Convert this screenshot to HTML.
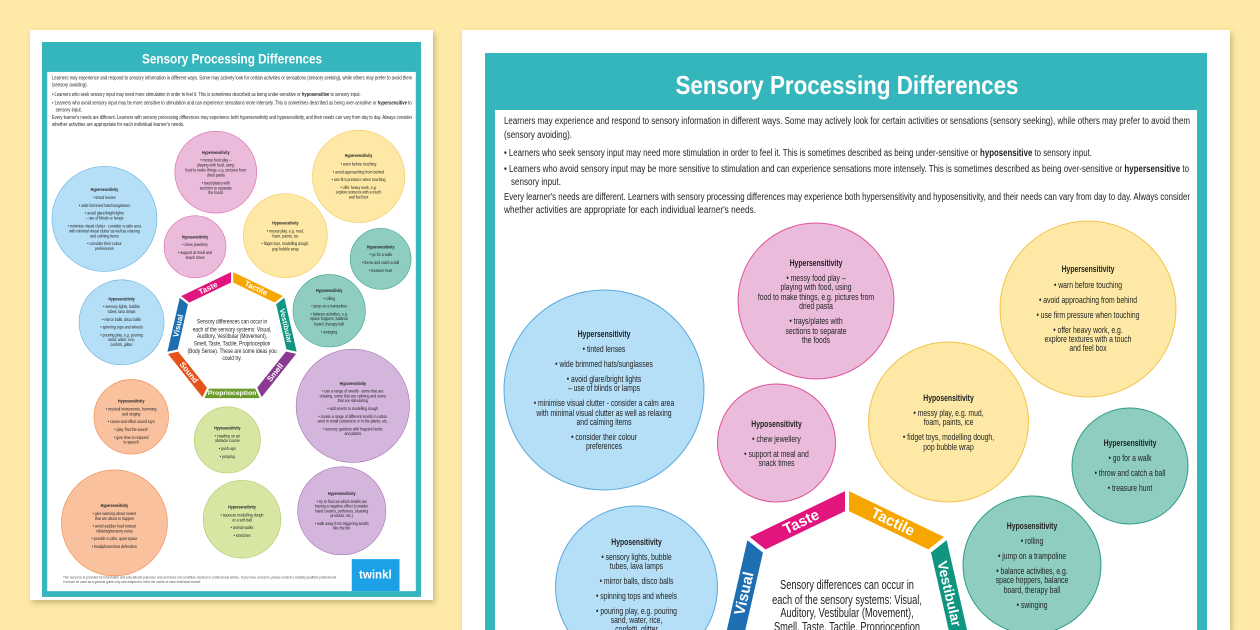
<!DOCTYPE html>
<html><head><meta charset="utf-8"><style>
html,body{margin:0;padding:0;background:#fee9a6;width:1260px;height:630px;overflow:hidden;}
svg{display:block}
.t{font-family:"Liberation Sans",sans-serif;font-size:9.5px;fill:#222;text-anchor:middle}
.h{font-weight:bold}
.i{font-family:"Liberation Sans",sans-serif;font-size:10px;fill:#222}
.seg{font-family:"Liberation Sans",sans-serif;font-weight:bold;font-size:15px;fill:#fff;text-anchor:middle;dominant-baseline:central}
.c{font-family:"Liberation Sans",sans-serif;font-size:12.5px;fill:#222;text-anchor:middle}
</style></head><body style="min-height:0">
<svg width="1260" height="630" viewBox="0 0 1260 630" xmlns="http://www.w3.org/2000/svg" overflow="hidden">
<defs>
<clipPath id="frame"><rect x="0" y="0" width="1260" height="630"/></clipPath>
<filter id="sh" x="-5%" y="-5%" width="110%" height="110%"><feDropShadow dx="2" dy="3" stdDeviation="3" flood-color="#8a7a40" flood-opacity="0.45"/></filter>
<g id="poster">
<rect x="0" y="0" width="722" height="1057" fill="#35b6bc"/>
<rect x="10" y="57" width="702" height="989" fill="#fff"/>
<text x="362" y="41" textLength="343" lengthAdjust="spacingAndGlyphs" style="font-family:'Liberation Sans',sans-serif;font-weight:bold;font-size:26px;fill:#fff;text-anchor:middle">Sensory Processing Differences</text>
<text class="i" x="19" y="71" textLength="686" lengthAdjust="spacingAndGlyphs">Learners may experience and respond to sensory information in different ways. Some may actively look for certain activities or sensations (sensory seeking), while others may prefer to avoid them</text>
<text class="i" x="19" y="85" textLength="68" lengthAdjust="spacingAndGlyphs">(sensory avoiding).</text>
<text class="i" x="19" y="103" textLength="588" lengthAdjust="spacingAndGlyphs">• Learners who seek sensory input may need more stimulation in order to feel it. This is sometimes described as being under-sensitive or <tspan font-weight="bold">hyposensitive</tspan> to sensory input.</text>
<text class="i" x="19" y="119" textLength="685" lengthAdjust="spacingAndGlyphs">• Learners who avoid sensory input may be more sensitive to stimulation and can experience sensations more intensely. This is sometimes described as being over-sensitive or <tspan font-weight="bold">hypersensitive</tspan> to</text>
<text class="i" x="26" y="132" textLength="50" lengthAdjust="spacingAndGlyphs">sensory input.</text>
<text class="i" x="19" y="147" textLength="686" lengthAdjust="spacingAndGlyphs">Every learner's needs are different. Learners with sensory processing differences may experience both hypersensitivity and hyposensitivity, and their needs can vary from day to day. Always consider</text>
<text class="i" x="19" y="160" textLength="252" lengthAdjust="spacingAndGlyphs">whether activities are appropriate for each individual learner's needs.</text>

<g transform="translate(119,337)"><circle r="100" fill="#b5def7" stroke="#5aa9dc" stroke-width="1"/><g transform="scale(0.72,1)">
<text class="t h" y="-53">Hypersensitivity</text><text class="t" y="-38">• tinted lenses</text><text class="t" y="-23">• wide brimmed hats/sunglasses</text><text class="t" y="-8">• avoid glare/bright lights</text><text class="t" y="1">– use of blinds or lamps</text><text class="t" y="16">• minimise visual clutter - consider a calm area</text><text class="t" y="26">with minimal visual clutter as well as relaxing</text><text class="t" y="35">and calming items</text><text class="t" y="50">• consider their colour</text><text class="t" y="59">preferences</text></g></g>

<g transform="translate(331,248)"><circle r="78" fill="#ebbbdb" stroke="#e0559b" stroke-width="1"/><g transform="scale(0.72,1)">
<text class="t h" y="-35">Hypersensitivity</text><text class="t" y="-20">• messy food play –</text><text class="t" y="-11">playing with food, using</text><text class="t" y="-1">food to make things, e.g. pictures from</text><text class="t" y="8">dried pasta</text><text class="t" y="23">• trays/plates with</text><text class="t" y="33">sections to separate</text><text class="t" y="42">the foods</text></g></g>

<g transform="translate(291.5,390)"><circle r="59" fill="#ebbbdb" stroke="#e0559b" stroke-width="1"/><g transform="scale(0.72,1)">
<text class="t h" y="-16">Hyposensitivity</text><text class="t" y="-1">• chew jewellery</text><text class="t" y="14">• support at meal and</text><text class="t" y="23">snack times</text></g></g>

<g transform="translate(151.5,534)"><circle r="81" fill="#b5def7" stroke="#5aa9dc" stroke-width="1"/><g transform="scale(0.72,1)">
<text class="t h" y="-42">Hyposensitivity</text><text class="t" y="-27">• sensory lights, bubble</text><text class="t" y="-18">tubes, lava lamps</text><text class="t" y="-3">• mirror balls, disco balls</text><text class="t" y="12">• spinning tops and wheels</text><text class="t" y="27">• pouring play, e.g. pouring</text><text class="t" y="36">sand, water, rice,</text><text class="t" y="45">confetti, glitter</text></g></g>

<g transform="translate(603,256)"><circle r="88" fill="#fde9a5" stroke="#f4c34a" stroke-width="1"/><g transform="scale(0.72,1)">
<text class="t h" y="-37">Hypersensitivity</text><text class="t" y="-21">• warn before touching</text><text class="t" y="-6">• avoid approaching from behind</text><text class="t" y="9">• use firm pressure when touching</text><text class="t" y="24">• offer heavy work, e.g.</text><text class="t" y="33">explore textures with a touch</text><text class="t" y="42">and feel box</text></g></g>

<g transform="translate(463.5,369)"><circle r="80" fill="#fde9a5" stroke="#f4c34a" stroke-width="1"/><g transform="scale(0.72,1)">
<text class="t h" y="-21">Hyposensitivity</text><text class="t" y="-6">• messy play, e.g. mud,</text><text class="t" y="3">foam, paints, ice</text><text class="t" y="18">• fidget toys, modelling dough,</text><text class="t" y="28">pop bubble wrap</text></g></g>

<g transform="translate(645,413)"><circle r="58" fill="#8ecdc0" stroke="#2f9c88" stroke-width="1"/><g transform="scale(0.72,1)">
<text class="t h" y="-20">Hypersensitivity</text><text class="t" y="-5">• go for a walk</text><text class="t" y="10">• throw and catch a ball</text><text class="t" y="25">• treasure hunt</text></g></g>

<g transform="translate(547,512)"><circle r="69" fill="#8ecdc0" stroke="#2f9c88" stroke-width="1"/><g transform="scale(0.72,1)">
<text class="t h" y="-36">Hyposensitivity</text><text class="t" y="-21">• rolling</text><text class="t" y="-6">• jump on a trampoline</text><text class="t" y="9">• balance activities, e.g.</text><text class="t" y="18">space hoppers, balance</text><text class="t" y="28">board, therapy ball</text><text class="t" y="43">• swinging</text></g></g>

<g transform="translate(170,714)"><circle r="71" fill="#f9c19e" stroke="#ef7d3c" stroke-width="1"/><g transform="scale(0.72,1)">
<text class="t h" y="-27">Hyposensitivity</text><text class="t" y="-12">• musical instruments, humming</text><text class="t" y="-3">and singing</text><text class="t" y="12">• cause and effect sound toys</text><text class="t" y="27">• play 'find the sound'</text><text class="t" y="42">• give time to respond</text><text class="t" y="51">to speech</text></g></g>

<g transform="translate(353,758)"><circle r="63" fill="#d8e6a4" stroke="#a9c45a" stroke-width="1"/><g transform="scale(0.72,1)">
<text class="t h" y="-20">Hyposensitivity</text><text class="t" y="-5">• crawling on an</text><text class="t" y="4">obstacle course</text><text class="t" y="19">• push-ups</text><text class="t" y="34">• jumping</text></g></g>

<g transform="translate(592,693)"><circle r="108" fill="#d4b6dd" stroke="#9c64ad" stroke-width="1"/><g transform="scale(0.72,1)">
<text class="t h" y="-40">Hyposensitivity</text><text class="t" y="-25">• use a range of smells - some that are</text><text class="t" y="-16">relaxing, some that are calming and some</text><text class="t" y="-7">that are stimulating</text><text class="t" y="8">• add scents to modelling dough</text><text class="t" y="23">• create a range of different smells in cotton</text><text class="t" y="32">wool in small containers or in the plants, etc.</text><text class="t" y="47">• sensory gardens with fragrant herbs</text><text class="t" y="56">and plants</text></g></g>

<g transform="translate(138,916)"><circle r="101" fill="#f9c19e" stroke="#ef7d3c" stroke-width="1"/><g transform="scale(0.72,1)">
<text class="t h" y="-30">Hypersensitivity</text><text class="t" y="-15">• give warning about noises</text><text class="t" y="-6">that are about to happen</text><text class="t" y="9">• avoid sudden loud noises/</text><text class="t" y="18">vibrating/sensory noise</text><text class="t" y="33">• provide a calm, quiet space</text><text class="t" y="48">• headphones/ear defenders</text></g></g>

<g transform="translate(381,909)"><circle r="74" fill="#d8e6a4" stroke="#a9c45a" stroke-width="1"/><g transform="scale(0.72,1)">
<text class="t h" y="-20">Hypersensitivity</text><text class="t" y="-5">• squeeze modelling dough</text><text class="t" y="4">or a soft ball</text><text class="t" y="19">• animal walks</text><text class="t" y="34">• stretches</text></g></g>

<g transform="translate(571,893)"><circle r="84" fill="#d4b6dd" stroke="#9c64ad" stroke-width="1"/><g transform="scale(0.72,1)">
<text class="t h" y="-30">Hypersensitivity</text><text class="t" y="-15">• try to find out which smells are</text><text class="t" y="-6">having a negative effect (consider</text><text class="t" y="3">hand creams, perfumes, cleaning</text><text class="t" y="12">products, etc.)</text><text class="t" y="27">• walk away from triggering smells</text><text class="t" y="36">like the bin</text></g></g>

<g stroke="#fff" stroke-width="4" stroke-linejoin="miter">
<polygon points="362,435 462.85,483.57 443.78,498.78 362,459.4" fill="#f7a600"/>
<polygon points="462.85,483.57 487.76,592.7 463.97,587.27 443.78,498.78" fill="#0f9580"/>
<polygon points="487.76,592.7 417.97,680.23 407.39,658.25 463.97,587.27" fill="#8b3a93"/>
<polygon points="417.97,680.23 306.03,680.23 316.61,658.25 407.39,658.25" fill="#6b9b2b"/>
<polygon points="306.03,680.23 236.24,592.7 260.03,587.27 316.61,658.25" fill="#e5531b"/>
<polygon points="236.24,592.7 261.15,483.57 280.22,498.78 260.03,587.27" fill="#1d6fb2"/>
<polygon points="261.15,483.57 362,435 362,459.4 280.22,498.78" fill="#e2147d"/>
</g>
<text class="seg" transform="translate(407.7,469.2) rotate(25.71)">Tactile</text>
<text class="seg" style="font-size:14px" transform="translate(464.6,540.6) rotate(77.14)">Vestibular</text>
<text class="seg" transform="translate(444.3,629.6) rotate(-51.43)">Smell</text>
<text class="seg" style="font-size:13px" transform="translate(362,669.2)">Proprioception</text>
<text class="seg" transform="translate(279.7,629.6) rotate(51.43)">Sound</text>
<text class="seg" transform="translate(259.4,540.6) rotate(-77.14)">Visual</text>
<text class="seg" transform="translate(316.3,469.2) rotate(-25.71)">Taste</text>
<g transform="translate(362,0) scale(0.74,1)">
<text class="c" y="536">Sensory differences can occur in</text>
<text class="c" y="551">each of the sensory systems: Visual,</text>
<text class="c" y="564">Auditory, Vestibular (Movement),</text>
<text class="c" y="578">Smell, Taste, Tactile, Proprioception</text>
<text class="c" y="592">(Body Sense). These are some ideas you</text>
<text class="c" y="606">could try.</text>
</g>
<text x="40" y="1022" style="font-family:'Liberation Sans',sans-serif;font-size:6px;fill:#555">This resource is provided for information and educational purposes only and does not constitute medical or professional advice. If you have concerns, please consult a suitably qualified professional.</text>
<text x="40" y="1030" style="font-family:'Liberation Sans',sans-serif;font-size:6px;fill:#555">It should be used as a general guide only and adapted to meet the needs of each individual learner.</text>
<rect x="590" y="985" width="91" height="61" fill="#1da1e6"/>
<text x="635" y="1022" style="font-family:'Liberation Sans',sans-serif;font-weight:bold;font-size:22px;fill:#fff;text-anchor:middle">twinkl</text>
</g>
</defs>

<rect width="1260" height="630" fill="#fee9a6"/>
<rect x="30" y="30" width="403" height="570" fill="#fff" filter="url(#sh)"/>
<use href="#poster" transform="translate(42,42) scale(0.525)"/>
<g clip-path="url(#frame)">
<rect x="462" y="30" width="768" height="600" fill="#fff" filter="url(#sh)"/>
<g clip-path="url(#frame)"><use href="#poster" transform="translate(485,53)" clip-path="url(#frame)"/></g>
</g>
</svg>
</body></html>
